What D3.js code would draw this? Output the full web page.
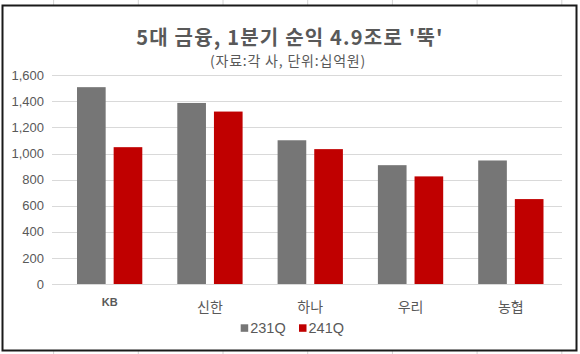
<!DOCTYPE html>
<html>
<head>
<meta charset="utf-8">
<script src="https://cdn.jsdelivr.net/npm/d3@7"></script>
<style>
  body { margin: 0; background: #fff; }
  svg { display: block; }
</style>
</head>
<body>
<svg id="chart" width="580" height="354"></svg>
<script>
var companies = ['KB', '신한', '하나', '우리', '농협'];
var seriesNames = ['231Q', '241Q'];
var q23 = [1509, 1388, 1102, 911, 947];
var q24 = [1049, 1322, 1034, 825, 651];
var yTicks = [0, 200, 400, 600, 800, 1000, 1200, 1400, 1600];
var colors = ['#767676', '#c00000'];

var svg = d3.select('#chart');
var W = +svg.attr('width'), H = +svg.attr('height');
var txt = '#595959';
var sans = '"Liberation Sans", Arial, "Noto Sans CJK KR", sans-serif';
var kr = '"Noto Sans CJK KR", "Liberation Sans", sans-serif';

// spreadsheet cell lines peeking out around the chart box
var cellX = d3.range(7).map(i => 53.6 + i * 84.7);
svg.selectAll('line.cell').data(cellX).enter().append('line')
  .attr('x1', d => d).attr('x2', d => d).attr('y1', 0).attr('y2', H)
  .attr('stroke', '#d4d4d4').attr('stroke-width', 1);

// chart box
svg.append('rect').attr('x', 2.5).attr('y', 5.5).attr('width', 574).attr('height', 345)
  .attr('fill', '#fff').attr('stroke', '#1a1a1a').attr('stroke-width', 2);

var rows = companies.map((c, i) => ({ name: c, vals: [q23[i], q24[i]] }));

var y = d3.scaleLinear().domain([0, 1600]).range([284, 75.3]);
var x0 = d3.scaleBand().domain(companies).range([59.5, 561])
  .paddingInner(0.349).paddingOuter(0.1745);
var x1 = d3.scaleBand().domain(d3.range(2)).range([0, x0.bandwidth()]).paddingInner(0.218);

// gridlines
svg.append('g').selectAll('line').data(yTicks).enter().append('line')
  .attr('x1', 52).attr('x2', 562)
  .attr('y1', d => Math.round(y(d)) + 0.5).attr('y2', d => Math.round(y(d)) + 0.5)
  .attr('stroke', '#d9d9d9').attr('stroke-width', 1);

// y axis labels
var yAxis = d3.axisLeft(y).tickValues(yTicks).tickFormat(d3.format(',')).tickSize(0).tickPadding(0);
var ya = svg.append('g').attr('transform', 'translate(44,0)').call(yAxis);
ya.select('.domain').remove();
ya.selectAll('text').attr('fill', txt).style('font-family', sans).style('font-size', '13px');

// bars
var groups = svg.append('g').selectAll('g').data(rows).enter().append('g')
  .attr('transform', d => 'translate(' + x0(d.name) + ',0)');
groups.selectAll('rect').data(d => d.vals).enter().append('rect')
  .attr('x', (d, i) => x1(i)).attr('width', x1.bandwidth())
  .attr('y', d => y(d)).attr('height', d => y(0) - y(d))
  .attr('fill', (d, i) => colors[i]);

// x labels
svg.append('g').selectAll('text').data(companies).enter().append('text')
  .attr('x', d => x0(d) + x0.bandwidth() / 2)
  .attr('y', d => d === 'KB' ? 305.5 : 312)
  .attr('text-anchor', 'middle')
  .attr('fill', txt)
  .style('font-family', d => d === 'KB' ? sans : kr)
  .style('font-weight', d => d === 'KB' ? 'bold' : 'normal')
  .style('font-size', d => d === 'KB' ? '11px' : '14px')
  .text(d => d);

// title
svg.append('text').attr('x', 290).attr('y', 45).attr('text-anchor', 'middle')
  .attr('fill', txt).style('font-family', kr).style('font-weight', 'bold').style('font-size', '20px')
  .style('letter-spacing', '1.2px')
  .text("5대 금융, 1분기 순익 4.9조로 '뚝'");
svg.append('text').attr('x', 288).attr('y', 65.5).attr('text-anchor', 'middle')
  .attr('fill', txt).style('font-family', kr).style('font-size', '14px')
  .style('letter-spacing', '0.8px')
  .text('(자료:각 사, 단위:십억원)');

// legend
var legX = [240.7, 299];
var leg = svg.append('g').selectAll('g').data(seriesNames).enter().append('g')
  .attr('transform', (d, i) => 'translate(' + legX[i] + ',324.3)');
leg.append('rect').attr('width', 7.5).attr('height', 7.5).attr('fill', (d, i) => colors[i]);
leg.append('text').attr('x', 9.5).attr('y', 9)
  .attr('fill', txt).style('font-family', sans).style('font-size', '14.5px')
  .text(d => d);
</script>
</body>
</html>
